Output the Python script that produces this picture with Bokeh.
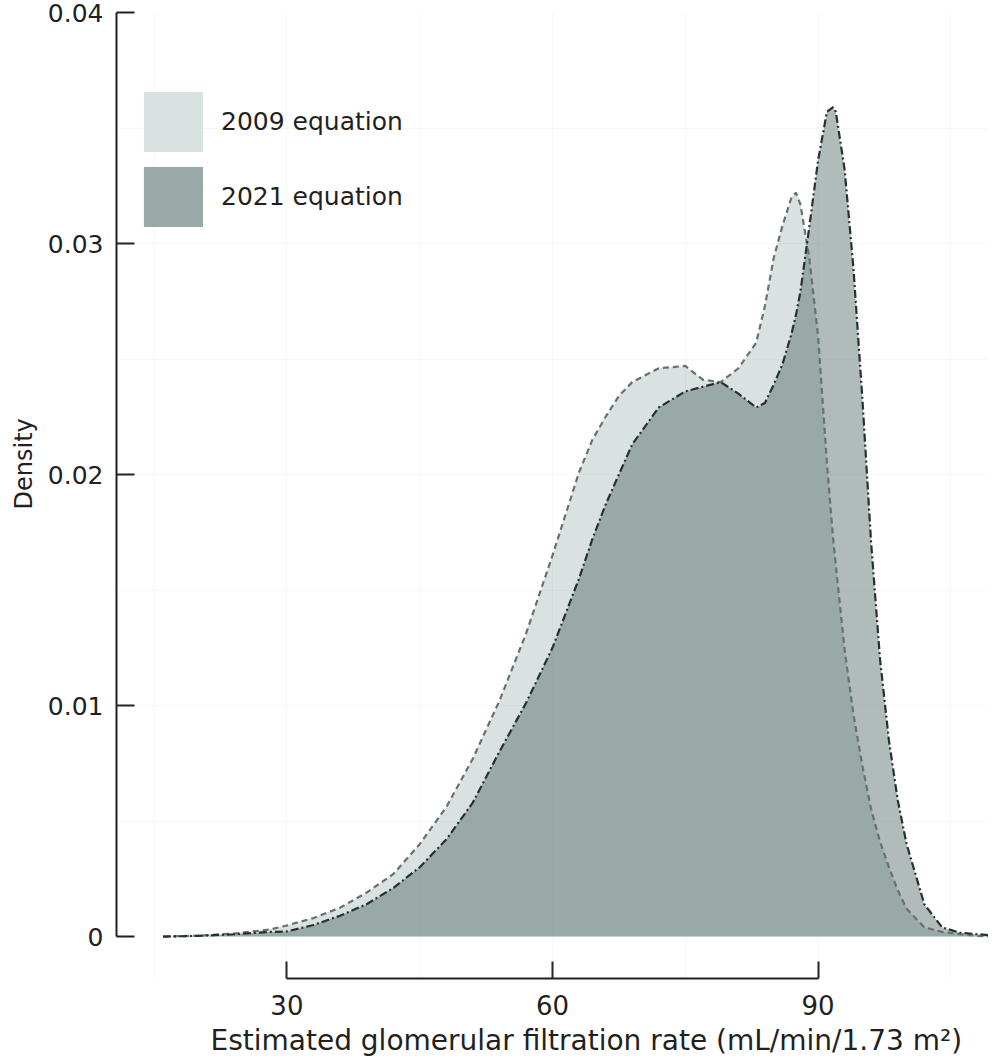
from bokeh.plotting import figure
from bokeh.models import Range1d, FixedTicker, Legend, LegendItem, Title
from bokeh.embed import file_html
from bokeh.resources import INLINE

# eGFR grid (mL/min/1.73 m2) and density
egfr = [16, 20, 24, 28, 30, 33, 36, 39, 42, 45, 48, 51, 54, 57, 60, 63, 64.5,
        66, 67.5, 69, 72, 75, 77, 79, 81, 83, 84, 85, 86, 87, 87.5, 88, 89, 90,
        91, 91.7, 92, 93, 94, 95, 96, 97, 98, 99, 100, 102, 104, 106, 108, 110]
density_2009 = [0, 0.00004, 0.00013, 0.0003, 0.00048, 0.0008, 0.00125, 0.0019,
                0.0027, 0.0040, 0.0056, 0.0077, 0.0102, 0.0131, 0.0165, 0.0201,
                0.0215, 0.0225, 0.0234, 0.0240, 0.0246, 0.0247, 0.0241, 0.0240,
                0.0246, 0.0257, 0.0273, 0.0294, 0.0308, 0.0320, 0.0322, 0.0317,
                0.0294, 0.0260, 0.0205, 0.0172, 0.0161, 0.0124, 0.0096, 0.0074,
                0.0055, 0.0041, 0.0030, 0.0020, 0.0012, 0.0004, 0.0002, 0.0001,
                0.00003, 0]
density_2021 = [0, 0.00003, 0.0001, 0.0002, 0.00022, 0.0005, 0.0009, 0.0014,
                0.0021, 0.0030, 0.0042, 0.0058, 0.0080, 0.0101, 0.0125, 0.0155,
                0.0172, 0.0187, 0.0200, 0.0213, 0.0229, 0.0236, 0.0238, 0.0240,
                0.0235, 0.0229, 0.0231, 0.0239, 0.0248, 0.0261, 0.0269, 0.0279,
                0.0307, 0.0336, 0.0357, 0.0359, 0.0357, 0.0332, 0.0289, 0.0233,
                0.0170, 0.0120, 0.0085, 0.0059, 0.0040, 0.0014, 0.0004, 0.00017,
                0.0001, 0.00004]

series_labels = ["2009 equation", "2021 equation"]
x_ticks = [30, 60, 90]
y_ticks = [0, 0.01, 0.02, 0.03, 0.04]
y_tick_labels = ["0", "0.01", "0.02", "0.03", "0.04"]
grid_x = [15, 30, 45, 60, 75, 90, 105]
grid_y = [0.005 * i for i in range(1, 9)]
x_title = "Estimated glomerular filtration rate (mL/min/1.73 m²)"
y_title = "Density"

FONT = "DejaVu Sans"
INK = "#231f20"
LIGHT = "#d9e2e0"
DARK = "#99a9a7"

p = figure(width=988, height=1060, output_backend="svg", toolbar_location=None,
           x_range=Range1d(10.75, 109.25), y_range=Range1d(-0.001816, 0.04),
           min_border_left=113, min_border_top=12, min_border_right=0,
           min_border_bottom=81)
p.outline_line_color = None
p.background_fill_color = "white"

# filled densities
p.varea(x=egfr, y1=0, y2=density_2009, fill_color=LIGHT)
p.varea(x=egfr, y1=0, y2=density_2021, fill_color="#395452", fill_alpha=0.4)
p.line(egfr, density_2009, line_color="#66726f", line_width=2.2,
       line_dash="6 4")
p.line(egfr, density_2021, line_color="#273030", line_width=2.2,
       line_dash="8 3 2 3")

# legend swatches: zero-height areas outside the visible range, solid colours
r09 = p.varea(x=[0, 1], y1=[0, 0], y2=[0, 0], fill_color=LIGHT)
r21 = p.varea(x=[0, 1], y1=[0, 0], y2=[0, 0], fill_color=DARK)
legend = Legend(items=[LegendItem(label=series_labels[0], renderers=[r09]),
                       LegendItem(label=series_labels[1], renderers=[r21])],
                location=(20, 744), orientation="vertical")
legend.border_line_color = None
legend.background_fill_alpha = 0
legend.padding = 0
legend.margin = 0
legend.spacing = 0
legend.glyph_width = 74
legend.glyph_height = 75
legend.label_standoff = 11
legend.label_text_font = FONT
legend.label_text_font_size = "25px"
legend.label_text_color = INK
p.add_layout(legend)

# faint grid
p.xgrid.ticker = FixedTicker(ticks=grid_x)
p.ygrid.ticker = FixedTicker(ticks=grid_y)
for g in (p.xgrid, p.ygrid):
    g.level = "overlay"
    g.grid_line_color = "#7d8b89"
    g.grid_line_alpha = 0.07

# x axis
xa = p.xaxis[0]
xa.ticker = FixedTicker(ticks=x_ticks)
xa.bounds = (30, 90)
xa.major_label_text_font = FONT
xa.major_label_text_font_size = "26px"
xa.major_label_text_color = INK
xa.major_label_standoff = 16
xa.major_tick_in = 17
xa.major_tick_out = 0
xa.minor_tick_line_color = None
xa.axis_line_width = 2
xa.major_tick_line_width = 2
xa.axis_line_color = INK
xa.major_tick_line_color = INK

# y axis
ya = p.yaxis[0]
ya.ticker = FixedTicker(ticks=y_ticks)
ya.major_label_overrides = dict(zip(y_ticks, y_tick_labels))
ya.bounds = (0, 0.04)
ya.major_label_text_font = FONT
ya.major_label_text_font_size = "25px"
ya.major_label_text_color = INK
ya.major_label_standoff = 13
ya.major_tick_in = 18
ya.major_tick_out = 0
ya.minor_tick_line_color = None
ya.axis_line_width = 2
ya.major_tick_line_width = 2
ya.axis_line_color = INK
ya.major_tick_line_color = INK

# axis titles as side titles, placed off the frame centre like the original
p.add_layout(Title(text=x_title, align="left", offset=94, standoff=8,
                   text_font=FONT, text_font_size="28px",
                   text_font_style="normal", text_color=INK), "below")
p.add_layout(Title(text=y_title, align="left", offset=469, standoff=14,
                   text_font=FONT, text_font_size="24px",
                   text_font_style="normal", text_color=INK), "left")

open("out.html", "w").write(file_html(p, INLINE))
